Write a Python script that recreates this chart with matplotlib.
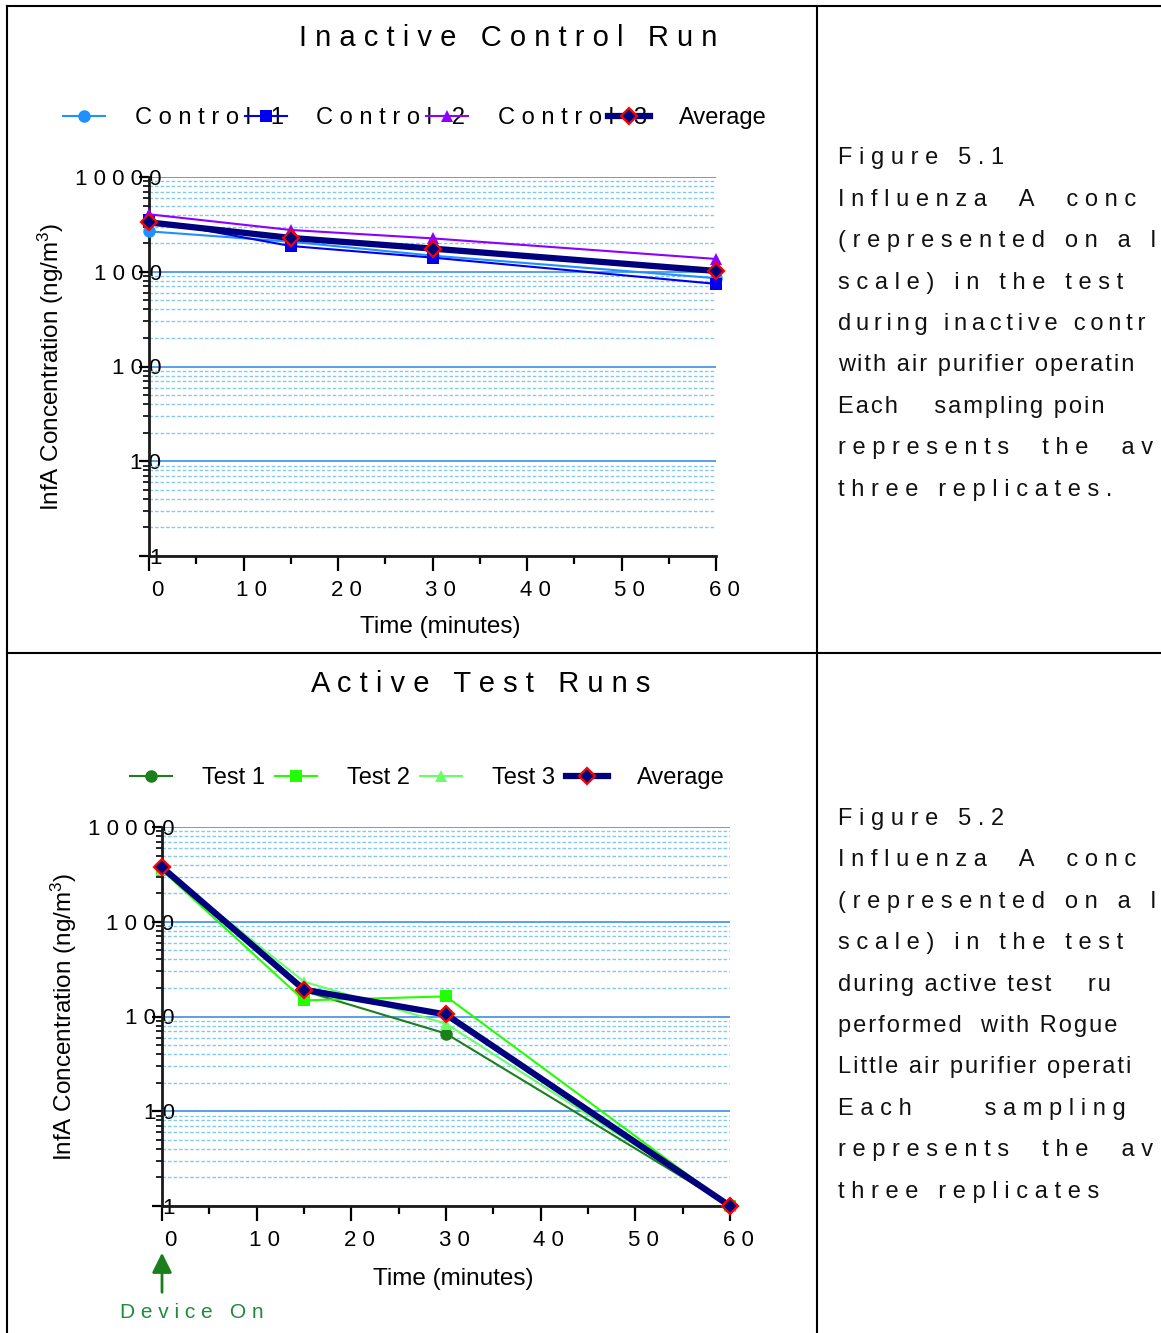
import matplotlib
matplotlib.use("Agg")
import matplotlib.pyplot as plt
import matplotlib.transforms as mtransforms
from matplotlib.lines import Line2D
from matplotlib.ticker import FixedLocator, NullFormatter, LogLocator

plt.rcParams["font.family"] = ["Liberation Sans", "DejaVu Sans"]
plt.rcParams["mathtext.default"] = "regular"

# data
time = [0, 15, 30, 60]

control_1 = [2670, 2075, 1480, 855]
control_2 = [3500, 1870, 1410, 745]
control_3 = [4040, 2760, 2250, 1365]
control_avg = [3320, 2275, 1755, 1020]

test_1 = [3640, 186, 66, 1]
test_2 = [3500, 148, 163, 1]
test_3 = [3640, 233, 84, 1]
test_avg = [3760, 192, 105, 1]

y_ticks = [1, 10, 100, 1000, 10000]
y_tick_labels = ["1", "10", "100", "1000", "10000"]
x_ticks = [0, 10, 20, 30, 40, 50, 60]

# caption text as far as it is visible in the reference (cut by the page edge)
caption_1 = ["Figure 5.1",
             "Influenza  A  conc",
             "(represented on a l",
             "scale) in the test",
             "during inactive contr",
             "with air purifier operatin",
             "Each    sampling poin",
             "represents  the  av",
             "three replicates."]
caption_2 = ["Figure 5.2",
             "Influenza  A  conc",
             "(represented on a l",
             "scale) in the test",
             "during active test    ru",
             "performed  with Rogue",
             "Little air purifier operati",
             "Each     sampling",
             "represents  the  av",
             "three replicates"]

W, H = 1161, 1333


def spaced(s, joiner=" "):
    # wide letter spacing as in the reference
    return joiner.join(s)


def fx(px):
    return px / W


def fy(py):
    return 1 - py / H


fig = plt.figure(figsize=(W / 100, H / 100), dpi=100)
renderer = fig.canvas.get_renderer()

# frame lines of the table layout
for xs, ys in [((7, W), (6, 6)), ((7, 7), (6, H)), ((817, 817), (6, H)), ((7, W), (653, 653))]:
    fig.add_artist(Line2D([fx(x) for x in xs], [fy(y) for y in ys], transform=fig.transFigure,
                          color="black", lw=1.5))


def style_axes(ax):
    ax.set_yscale("log")
    ax.set_xlim(0, 60)
    ax.set_ylim(1, 10000)
    for s in ["top", "right"]:
        ax.spines[s].set_visible(False)
    for s in ["left", "bottom"]:
        ax.spines[s].set_linewidth(2)
        ax.spines[s].set_color("#1a1a1a")

    ax.set_xticks(x_ticks, labels=[spaced(str(t)) for t in x_ticks])
    ax.xaxis.set_minor_locator(FixedLocator([5, 15, 25, 35, 45, 55]))
    ax.set_yticks(y_ticks, labels=[spaced(l) for l in y_tick_labels])
    ax.yaxis.set_minor_locator(LogLocator(base=10, subs=range(2, 10)))
    ax.yaxis.set_minor_formatter(NullFormatter())

    ax.tick_params(axis="x", which="major", length=11, width=1.6, pad=6, labelsize=16)
    ax.tick_params(axis="x", which="minor", length=6, width=1.6)
    ax.tick_params(axis="y", which="major", length=7, width=1.6, pad=-16, labelsize=16)
    ax.tick_params(axis="y", which="minor", length=4, width=1.2)
    offset = mtransforms.ScaledTranslation(8 / 100, 0, fig.dpi_scale_trans)
    for lab in ax.get_xticklabels():
        lab.set_transform(lab.get_transform() + offset)

    ax.grid(True, which="major", axis="y", color="#3d8fe6", lw=1.2, ls="-")
    ax.grid(True, which="minor", axis="y", color="#80c8ee", lw=1.0, ls=(0, (2.5, 1.5)))
    ax.set_axisbelow(True)

    ax.set_ylabel("InfA Concentration (ng/m$^3$)", fontsize=17.5)
    ax.set_xlabel("Time (minutes)", fontsize=17.5)


def plot_series(ax, y, color, marker, ms, lw, label, mfc=None, mec=None, mew=0):
    ax.plot(time, y, color=color, marker=marker, ms=ms, lw=lw, label=label,
            mfc=mfc or color, mec=mec or color, mew=mew, clip_on=False, zorder=3)


# ---- top panel: inactive control run
ax1 = fig.add_axes([fx(149), fy(556), fx(716) - fx(149), fy(177) - fy(556)])
style_axes(ax1)
plot_series(ax1, control_1, "#1e90ff", "o", 9, 1.5, spaced("Control 1"))
plot_series(ax1, control_2, "#0000ee", "s", 9, 1.5, spaced("Control 2"))
plot_series(ax1, control_3, "#8c00ff", "^", 9, 1.5, spaced("Control 3"))
plot_series(ax1, control_avg, "#00007f", "D", 8, 4.5, "Average", mfc="#00007f", mec="#ff0000", mew=1.6)
ax1.yaxis.set_label_coords(-0.146, 0.5)
ax1.xaxis.set_label_coords(0.513, -0.158)
ax1.legend(loc="center left", bbox_to_anchor=(fx(63), fy(118)), bbox_transform=fig.transFigure,
           ncol=4, frameon=False, fontsize=17, handlelength=1.78, handletextpad=1.25,
           columnspacing=-1.65, borderpad=0, borderaxespad=0)
fig.text(fx(508), fy(38), spaced("Inactive Control Run"), fontsize=21, ha="center", va="center")

# ---- bottom panel: active test runs
ax2 = fig.add_axes([fx(162), fy(1206), fx(730) - fx(162), fy(827) - fy(1206)])
style_axes(ax2)
plot_series(ax2, test_1, "#1b7f1b", "o", 9, 1.5, "Test 1")
plot_series(ax2, test_2, "#22ff00", "s", 9, 1.5, "Test 2")
plot_series(ax2, test_3, "#66ff66", "^", 9, 1.5, "Test 3")
plot_series(ax2, test_avg, "#00007f", "D", 8, 4.5, "Average", mfc="#00007f", mec="#ff0000", mew=1.6)
ax2.yaxis.set_label_coords(-0.146, 0.5)
ax2.xaxis.set_label_coords(0.512, -0.164)
ax2.legend(loc="center left", bbox_to_anchor=(fx(130), fy(778)), bbox_transform=fig.transFigure,
           ncol=4, frameon=False, fontsize=17, handlelength=1.78, handletextpad=1.25,
           columnspacing=0.45, borderpad=0, borderaxespad=0)
fig.text(fx(481), fy(684), spaced("Active Test Runs"), fontsize=21, ha="center", va="center")

# device-on marker
ax2.annotate("", xy=(0, -0.116), xycoords=("data", "axes fraction"),
             xytext=(0, -0.235), textcoords=("data", "axes fraction"),
             arrowprops=dict(arrowstyle="-|>", color="#1a7f1a", lw=2, mutation_scale=30),
             annotation_clip=False)
fig.text(fx(120), fy(1313), spaced("Device On"), fontsize=15, color="#1f8a3c", ha="left", va="center")


# ---- captions on the right, letter spacing tightened where a line would run off the page
def caption(lines, y0, step):
    for i, line in enumerate(lines):
        t = fig.text(fx(838), fy(y0 + i * step), spaced(line), fontsize=17,
                     ha="left", va="center", color="#111111")
        for joiner in [" ", "\u2009", "\u200a", ""]:
            t.set_text(spaced(line, joiner))
            if t.get_window_extent(renderer).x1 <= W - 3:
                break


caption(caption_1, 158, 41.5)
caption(caption_2, 819, 41.4)

plt.savefig("out.png", dpi=100)
